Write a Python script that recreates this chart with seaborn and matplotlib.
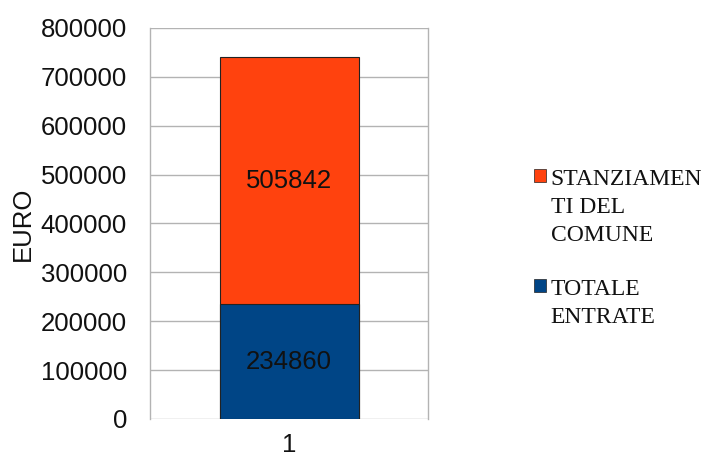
import matplotlib
matplotlib.use("Agg")
import matplotlib.pyplot as plt
from matplotlib.patches import Patch
import seaborn as sns
import pandas as pd

# DATA
categories = ["1"]
totale_entrate = [234860]
stanziamenti = [505842]
legend_labels = ["STANZIAMEN\nTI DEL\nCOMUNE", "TOTALE\nENTRATE"]
colors = ["#ff420e", "#004586"]

sns.set_theme(style="white")
plt.rcParams["font.family"] = ["Liberation Sans", "DejaVu Sans"]

FS = 18.5

df = pd.DataFrame({
    "cat": categories,
    "entrate": totale_entrate,
    "stanz": stanziamenti,
})
df["total"] = df["entrate"] + df["stanz"]

fig = plt.figure(figsize=(7.08, 4.59), dpi=100)
ax = fig.add_axes([150 / 708, 40 / 459, 278 / 708, 391 / 459])

# stacked: full total first, then lower segment over it
sns.barplot(data=df, x="cat", y="total", color=colors[0], width=0.5,
            edgecolor="#222222", linewidth=0.8, saturation=1, ax=ax, zorder=3)
sns.barplot(data=df, x="cat", y="entrate", color=colors[1], width=0.5,
            edgecolor="#222222", linewidth=0.8, saturation=1, ax=ax, zorder=3)

# value labels in the middle of each segment
for i, row in df.iterrows():
    ax.text(i, row["entrate"] / 2, str(row["entrate"]), ha="center", va="center",
            fontsize=FS, color="#111111", zorder=4)
    ax.text(i, row["entrate"] + row["stanz"] / 2, str(row["stanz"]), ha="center",
            va="center", fontsize=FS, color="#111111", zorder=4)

ax.set_xlim(-0.5, 0.5)
ax.set_ylim(0, 800000)
ax.set_yticks(range(0, 800001, 100000))
ax.set_yticklabels([str(v) for v in range(0, 800001, 100000)], fontsize=FS, color="#111111")
ax.set_xticks([0])
ax.set_xticklabels(categories, fontsize=FS, color="#111111")
ax.set_xticks([-0.5, 0.5], minor=True)
ax.tick_params(axis="x", which="major", length=0, pad=10)
ax.tick_params(axis="x", which="minor", length=8, color="#b3b3b3", width=1, direction="out")
ax.tick_params(axis="y", length=8, color="#b3b3b3", width=1, direction="out", pad=8.5)
ax.yaxis.grid(True, color="#b3b3b3", linewidth=1, zorder=0)
ax.set_axisbelow(True)
ax.set_xlabel("")
ax.set_ylabel("EURO", fontsize=FS, color="#111111", labelpad=4)

for side in ["top", "bottom"]:
    ax.spines[side].set_visible(False)
for side in ["left", "right"]:
    ax.spines[side].set_color("#b3b3b3")
    ax.spines[side].set_linewidth(1)

handles = [Patch(facecolor=c, edgecolor="#222222", linewidth=0.5) for c in colors]
leg = fig.legend(handles, legend_labels, loc="upper left",
                 bbox_to_anchor=(534 / 708, 1 - 169 / 459),
                 frameon=False, prop={"family": "Liberation Serif", "size": 17},
                 handlelength=0.5, handleheight=0.5, handletextpad=0.2, labelspacing=1.37,
                 borderpad=0, borderaxespad=0)
for t in leg.get_texts():
    t.set_linespacing(1.45)
    t.set_color("#111111")
# put the colour square next to the first line of each entry
for box in leg._legend_handle_box.get_children():
    for item in box.get_children():
        item.align = "top"

fig.savefig("out.png", dpi=100)
